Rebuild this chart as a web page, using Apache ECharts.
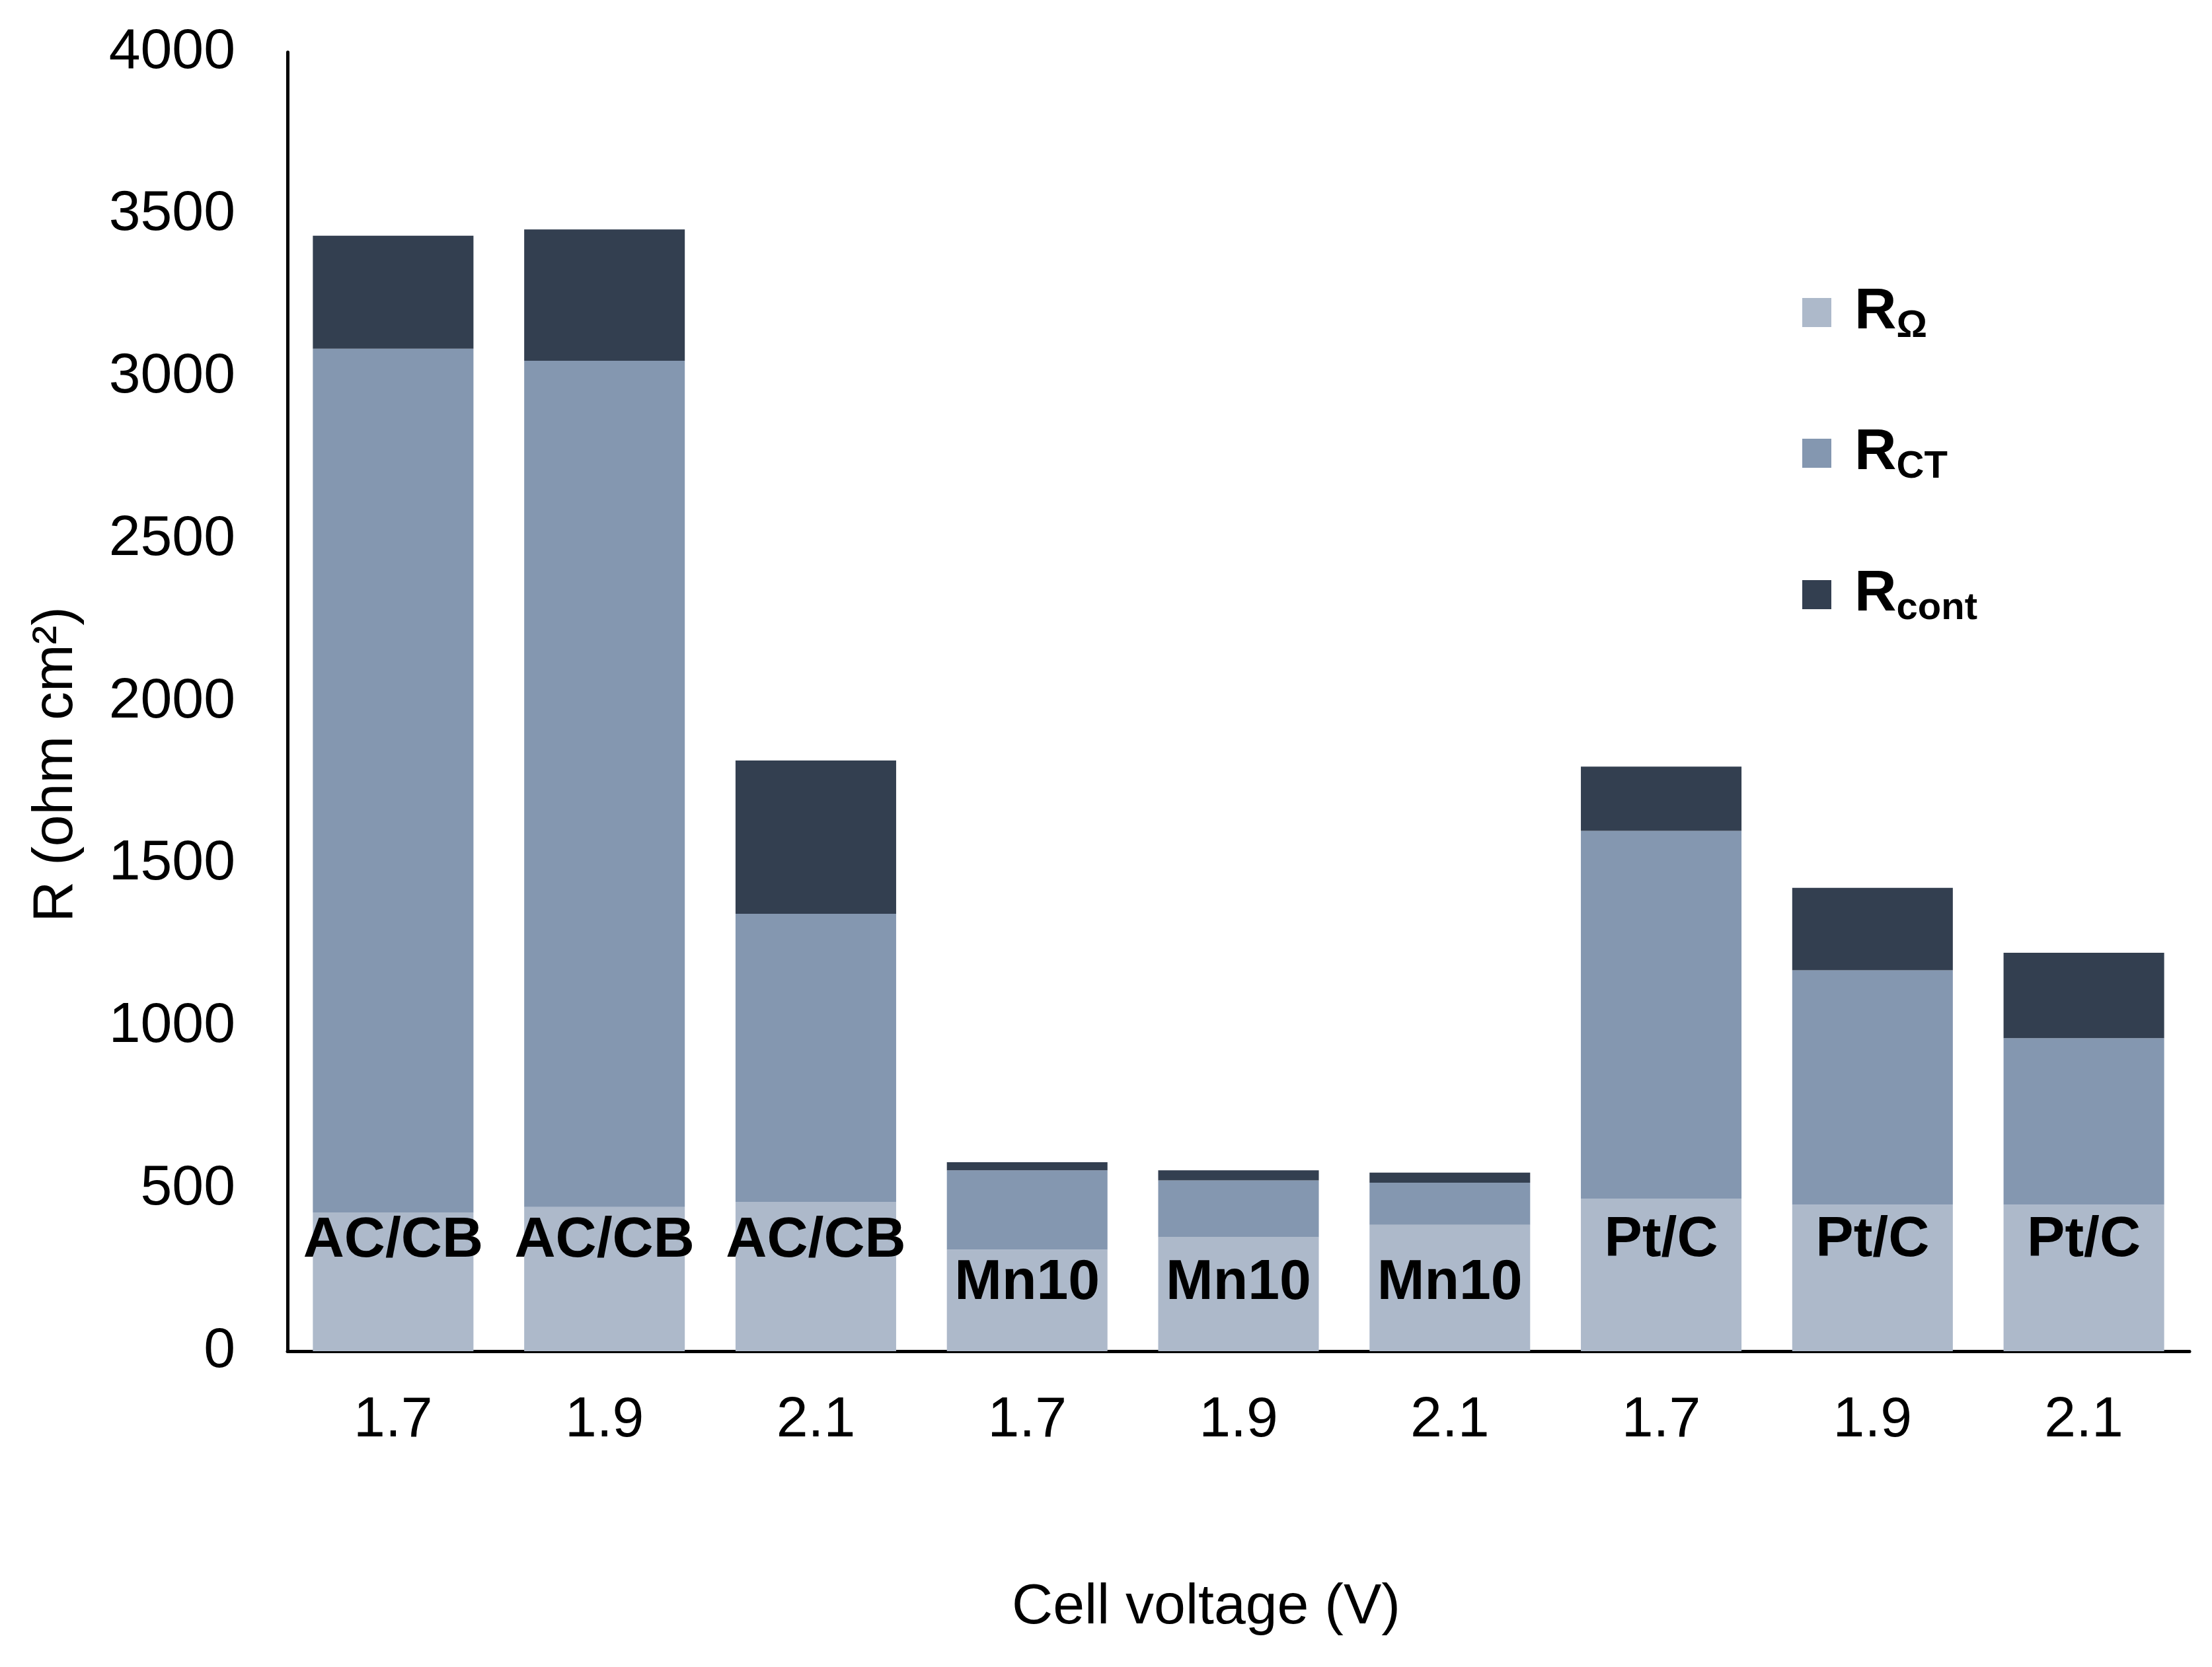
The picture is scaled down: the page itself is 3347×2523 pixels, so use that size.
<!DOCTYPE html>
<html>
<head>
<meta charset="utf-8">
<script src="https://cdn.jsdelivr.net/npm/echarts@6/dist/echarts.min.js"></script>
<style>
html,body{margin:0;padding:0;background:#fff;}
#c{width:3347px;height:2523px;}
</style>
</head>
<body>
<div id="c"></div>
<script>
const voltages = ['1.7','1.9','2.1','1.7','1.9','2.1','1.7','1.9','2.1'];
const catalysts = ['AC/CB','AC/CB','AC/CB','Mn10','Mn10','Mn10','Pt/C','Pt/C','Pt/C'];
const rOhm  = [426, 444, 459, 313, 351, 389, 470, 451, 451];
const rCT   = [2661, 2606, 888, 244, 175, 130, 1132, 722, 513];
const rCont = [348, 404, 472, 25, 31, 31, 198, 254, 263];
const yMin = 0, yMax = 4000, yStep = 500;
const seriesNames = ['R\u03A9', 'RCT', 'Rcont'];
const legendSubs = ['\u03A9', 'CT', 'cont'];

const FONT = '"Liberation Sans", Arial, sans-serif';
const colors = ['#ADB9CA', '#8497B0', '#333F50'];
const labelRise = {'AC/CB': 124, 'Mn10': 60, 'Pt/C': 125};

const categories = voltages.map((v, i) => catalysts[i] + ' ' + v);

const chart = echarts.init(document.getElementById('c'), null, {renderer: 'canvas'});

const legendTops = [424, 637, 851];
const legends = seriesNames.map((n, i) => ({
  data: [n],
  left: 2722,
  top: legendTops[i],
  orient: 'vertical',
  icon: 'rect',
  itemWidth: 44,
  itemHeight: 44,
  selectedMode: false,
  formatter: function () { return '{sp|}{r|R}{s|' + legendSubs[i] + '}'; },
  textStyle: {
    fontFamily: FONT,
    rich: {
      sp: {width: 30},
      r: {fontSize: 88, fontWeight: 'bold', color: '#000', lineHeight: 100, fontFamily: FONT, verticalAlign: 'middle'},
      s: {fontSize: 58, fontWeight: 'bold', color: '#000', lineHeight: 48, fontFamily: FONT, verticalAlign: 'bottom'}
    }
  }
}));

const option = {
  backgroundColor: '#ffffff',
  animation: false,
  color: colors,
  legend: legends,
  grid: {left: 435, right: 34, top: 79, bottom: 478, containLabel: false, outerBoundsMode: 'none'},
  xAxis: {
    type: 'category',
    data: categories,
    name: 'Cell voltage (V)',
    nameLocation: 'middle',
    nameGap: 345,
    nameTextStyle: {fontFamily: FONT, fontSize: 86, color: '#000', padding: [0, 98, 0, 0]},
    axisLine: {show: true, lineStyle: {color: '#000', width: 5}},
    axisTick: {show: false},
    axisLabel: {
      margin: 62,
      fontFamily: FONT, fontSize: 86, color: '#000',
      formatter: function (val, idx) { return voltages[idx]; }
    },
    splitLine: {show: false}
  },
  yAxis: {
    type: 'value',
    min: yMin, max: yMax, interval: yStep,
    name: 'R (ohm cm\u00B2)',
    nameLocation: 'middle',
    nameGap: 307,
    nameTextStyle: {fontFamily: FONT, fontSize: 86, color: '#000', padding: [0, 190, 0, 0]},
    axisLine: {show: true, lineStyle: {color: '#000', width: 5}},
    axisTick: {show: false},
    axisLabel: {
      margin: 79, fontFamily: FONT, fontSize: 86, color: '#000',
      formatter: function (v) { return String(v); }
    },
    splitLine: {show: false}
  },
  series: [
    {
      name: seriesNames[0], type: 'bar', stack: 'R', barCategoryGap: '24%',
      itemStyle: {color: colors[0]},
      data: rOhm.map((v, i) => ({value: v, label: {distance: labelRise[catalysts[i]]}})),
      label: {
        show: true, position: 'insideBottom',
        fontFamily: FONT, fontSize: 86, fontWeight: 'bold', color: '#000',
        formatter: function (p) { return catalysts[p.dataIndex]; }
      }
    },
    {name: seriesNames[1], type: 'bar', stack: 'R', barCategoryGap: '24%', itemStyle: {color: colors[1]}, data: rCT},
    {name: seriesNames[2], type: 'bar', stack: 'R', barCategoryGap: '24%', itemStyle: {color: colors[2]}, data: rCont}
  ]
};
chart.setOption(option);
</script>
</body>
</html>
